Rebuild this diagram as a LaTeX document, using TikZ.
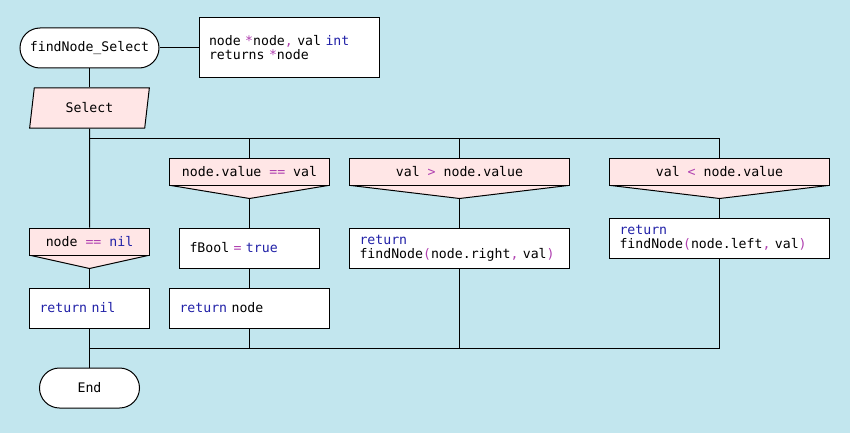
\documentclass[tikz,border=0pt]{standalone}
\usepackage{fontspec}
\setmonofont{DejaVu Sans Mono}
\usetikzlibrary{positioning,shapes.geometric,calc}

\definecolor{bgblue}{HTML}{C2E6EE}
\definecolor{casepink}{HTML}{FFE6E6}
\definecolor{kwblue}{HTML}{2222A8}
\definecolor{opmag}{HTML}{B040B0}
\newcommand\kwd[1]{\textcolor{kwblue}{#1}}
\newcommand\opr[1]{\textcolor{opmag}{#1}}

\begin{document}
\begin{tikzpicture}[
  x=1pt, y=-1pt,
  line width=1pt,
  font=\ttfamily\fontsize{13.2}{14}\selectfont,
  terminal/.style={rectangle, draw, fill=white, rounded corners=20pt, minimum height=40pt, inner sep=0pt},
  codebox/.style={rectangle, draw, fill=white, align=left, minimum height=40pt, inner xsep=10pt, inner ysep=0pt, text width=#1-20pt},
  casehead/.style={rectangle, draw, fill=casepink, align=center, minimum height=27pt, inner sep=0pt, minimum width=#1},
  selectbox/.style={trapezium, draw, fill=casepink, trapezium left angle=79, trapezium right angle=101,
    trapezium stretches=true, minimum width=120pt, minimum height=40pt, inner sep=0pt}
]
\useasboundingbox[fill=bgblue] (0,0) rectangle (850,433);

\node[terminal, minimum width=139pt] (start) at (89.5,48) {findNode\_Select};
\node[codebox=180pt, minimum height=60pt] (params) at (289,48) {node \opr{*}node\opr{,} val \kwd{int}\\returns \opr{*}node};
\node[selectbox] (select) at (89.5,108) {Select};

% case heads
\node[casehead=120pt] (nil) at (89.5,241.5) {node \opr{==} \kwd{nil}};
\node[casehead=160pt] (eq) at (249.5,171.5) {node.value \opr{==} val};
\node[casehead=220pt] (gt) at (459.5,171.5) {val \opr{>} node.value};
\node[casehead=220pt] (lt) at (719.5,171.5) {val \opr{<} node.value};
\foreach \c in {nil,eq,gt,lt} {
  \coordinate (\c-tip) at ($(\c.south)+(0,13)$);
  \filldraw[fill=casepink, line join=bevel] ([xshift=2pt]\c.south west) -- (\c-tip) -- ([xshift=-2pt]\c.south east);
  \draw (\c.south west) -- (\c.south east);
}

% actions
\node[codebox=140pt] (fbool) at (249.5,248) {fBool \opr{=} \kwd{true}};
\node[codebox=120pt] (retnil) at (89.5,308) {\kwd{return} \kwd{nil}};
\node[codebox=160pt] (retnode) at (249.5,308) {\kwd{return} node};
\node[codebox=220pt] (right) at (459.5,248) {\kwd{return}\\findNode\opr{(}node.right\opr{,} val\opr{)}};
\node[codebox=220pt] (left) at (719.5,238) {\kwd{return}\\findNode\opr{(}node.left\opr{,} val\opr{)}};
\node[terminal, minimum width=100pt] (end) at (89.5,388) {End};

% branch points
\coordinate (top1) at (89.5,138.5);
\coordinate (top2) at (249.5,138.5);
\coordinate (top3) at (459.5,138.5);
\coordinate (top4) at (719.5,138.5);
\coordinate (bot1) at (89.5,348.5);
\coordinate (bot2) at (249.5,348.5);
\coordinate (bot3) at (459.5,348.5);
\coordinate (bot4) at (719.5,348.5);

\draw (start) -- (params);
\draw (start) -- (select);
\draw (top1) -- (top4);
\draw (bot1) -- (bot4);

\draw (select.south) -- (nil.north);
\draw (nil-tip) -- (retnil);
\draw (retnil) -- (end);

\draw (top2) -- (eq);
\draw (eq-tip) -- (fbool);
\draw (fbool) -- (retnode);
\draw (retnode) -- (bot2);

\draw (top3) -- (gt);
\draw (gt-tip) -- (right);
\draw (right) -- (bot3);

\draw (top4) -- (lt);
\draw (lt-tip) -- (left);
\draw (left) -- (bot4);

\end{tikzpicture}
\end{document}
